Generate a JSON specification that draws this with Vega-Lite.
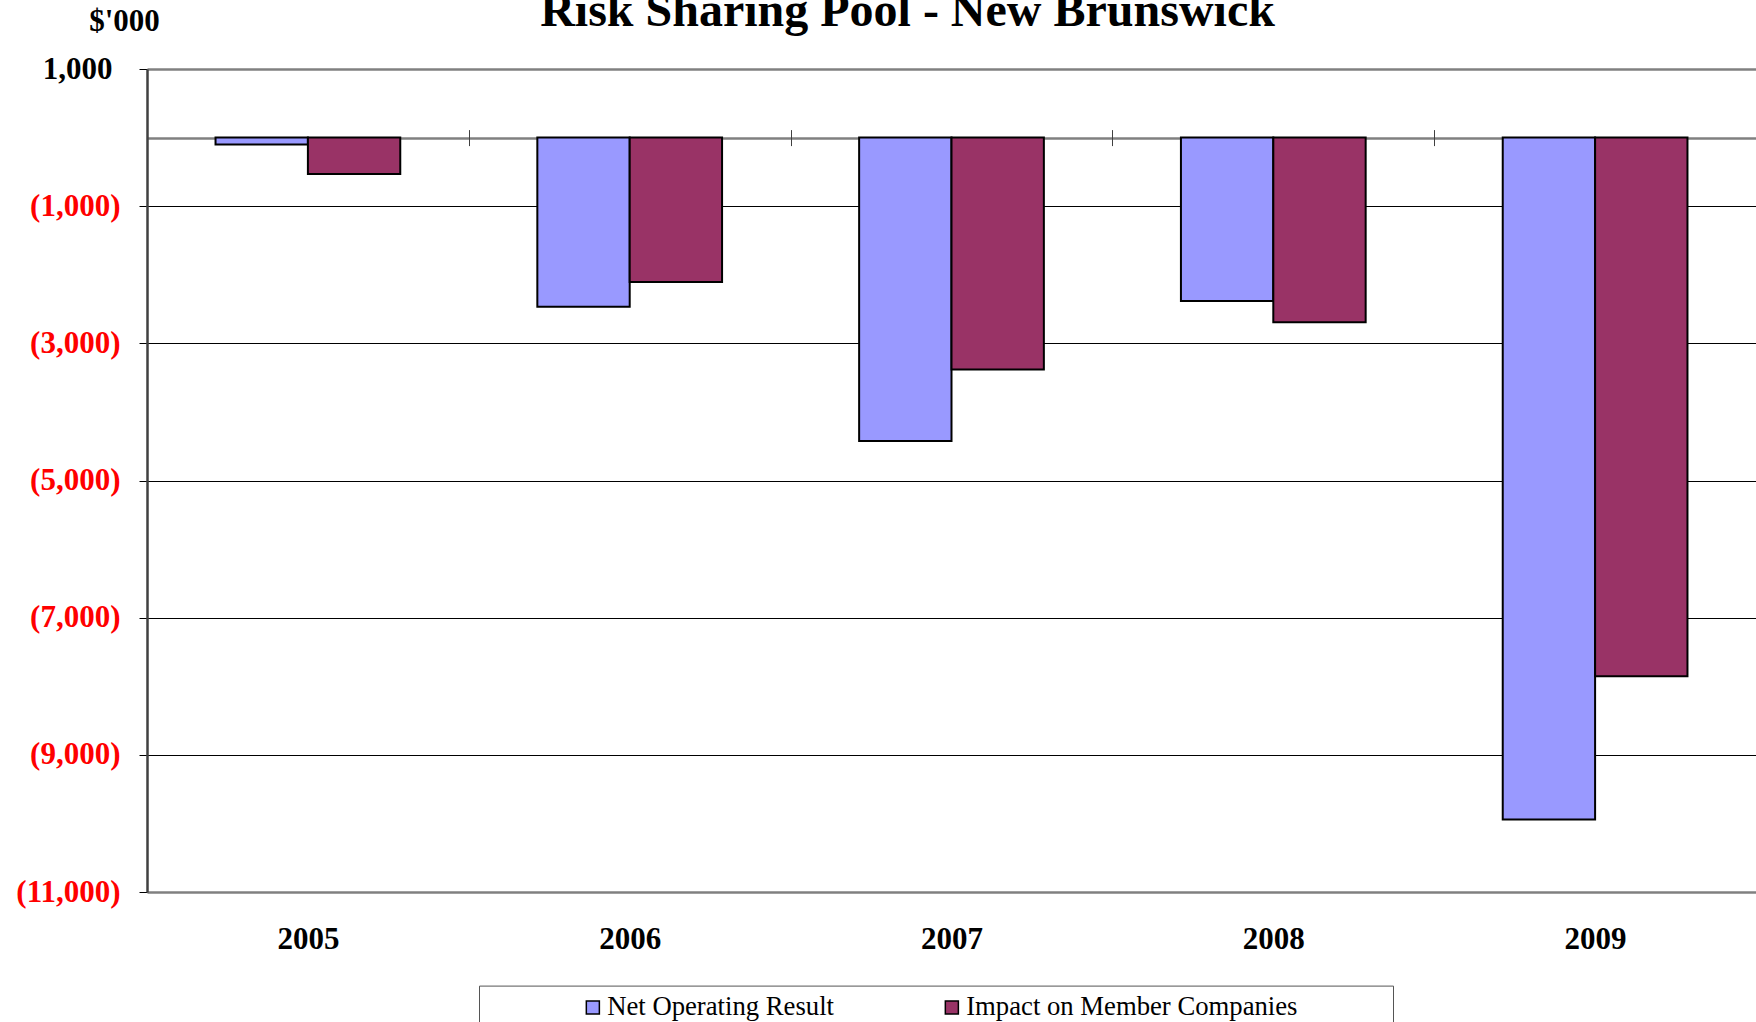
{
  "$schema": "https://vega.github.io/schema/vega-lite/v6.json",
  "autosize": {"type": "none"},
  "padding": {"left": 147, "top": 69, "right": 0, "bottom": 130},
  "width": 1609,
  "height": 823,
  "background": "white",
  "title": {
    "text": "Risk Sharing Pool - New Brunswick",
    "font": "Liberation Serif",
    "fontSize": 48,
    "fontWeight": "bold",
    "color": "black",
    "anchor": "middle",
    "dx": -44,
    "dy": 31,
    "offset": 0
  },
  "data": {
    "values": [
      {"year": "2005", "series": "Net Operating Result", "value": -100},
      {"year": "2005", "series": "Impact on Member Companies", "value": -530},
      {"year": "2006", "series": "Net Operating Result", "value": -2465},
      {"year": "2006", "series": "Impact on Member Companies", "value": -2106},
      {"year": "2007", "series": "Net Operating Result", "value": -4424},
      {"year": "2007", "series": "Impact on Member Companies", "value": -3380},
      {"year": "2008", "series": "Net Operating Result", "value": -2384},
      {"year": "2008", "series": "Impact on Member Companies", "value": -2694},
      {"year": "2009", "series": "Net Operating Result", "value": -9943},
      {"year": "2009", "series": "Impact on Member Companies", "value": -7853}
    ]
  },
  "mark": {"type": "bar", "stroke": "black", "strokeWidth": 2, "strokeJoin": "miter"},
  "encoding": {
    "x": {
      "field": "year",
      "type": "nominal",
      "scale": {"paddingInner": 0, "paddingOuter": 0},
      "axis": {
        "orient": "bottom",
        "title": null,
        "offset": -762.4,
        "domain": false,
        "grid": false,
        "tickBand": "extent",
        "ticks": true,
        "tickSize": 16,
        "tickColor": "#404040",
        "tickWidth": 1,
        "labelAngle": 0,
        "labelFont": "Liberation Serif",
        "labelFontSize": 31,
        "labelFontWeight": "bold",
        "labelColor": "black",
        "labelPadding": 779
      }
    },
    "xOffset": {
      "field": "series",
      "type": "nominal",
      "sort": ["Net Operating Result", "Impact on Member Companies"],
      "scale": {"paddingInner": 0, "paddingOuter": 0.742}
    },
    "y": {
      "field": "value",
      "type": "quantitative",
      "scale": {"domain": [-11000, 1000], "nice": false, "zero": false},
      "axis": {
        "title": "$'000",
        "titleAngle": 0,
        "titleX": -23,
        "titleY": -48,
        "titleAlign": "center",
        "titleBaseline": "middle",
        "titleFont": "Liberation Serif",
        "titleFontSize": 31,
        "titleFontWeight": "bold",
        "titleColor": "black",
        "values": [1000, 0, -1000, -3000, -5000, -7000, -9000, -11000],
        "labelExpr": "datum.value === 0 ? '' : (datum.value < 0 ? '(' + format(-datum.value, ',') + ')' : format(datum.value, ','))",
        "labelFont": "Liberation Serif",
        "labelFontSize": 31,
        "labelFontWeight": "bold",
        "labelColor": {"condition": {"test": "datum.value > 0", "value": "black"}, "value": "#FF0000"},
        "labelPadding": {"condition": {"test": "datum.value > 0", "value": 27}, "value": 19},
        "domain": true,
        "domainColor": "#404040",
        "domainWidth": 2.5,
        "ticks": true,
        "tickSize": 8,
        "tickColor": "black",
        "tickWidth": 1,
        "tickOpacity": {"condition": {"test": "datum.value === 0", "value": 0}, "value": 1},
        "grid": true,
        "gridColor": {"condition": {"test": "datum.value === 0 || datum.value === 1000 || datum.value === -11000", "value": "#808080"}, "value": "black"},
        "gridWidth": {"condition": {"test": "datum.value === 0 || datum.value === 1000 || datum.value === -11000", "value": 2.5}, "value": 1},
        "gridOpacity": 1
      }
    },
    "color": {
      "field": "series",
      "type": "nominal",
      "scale": {"domain": ["Net Operating Result", "Impact on Member Companies"], "range": ["#9999FF", "#993366"]},
      "legend": {
        "orient": "none",
        "legendX": 332,
        "legendY": 916.6,
        "direction": "horizontal",
        "title": "\u00a0",
        "titleOrient": "right",
        "titleFontSize": 1,
        "titlePadding": 88,
        "padding": 8,
        "strokeColor": "#555555",
        "fillColor": "white",
        "symbolType": "square",
        "symbolSize": 170,
        "symbolStrokeColor": "black",
        "symbolStrokeWidth": 1.5,
        "symbolOpacity": 1,
        "symbolOffset": 92.5,
        "labelOffset": 1,
        "columnPadding": 12,
        "labelFont": "Liberation Serif",
        "labelFontSize": 26.7,
        "labelColor": "black",
        "labelLimit": 0
      }
    }
  },
  "config": {"view": {"stroke": null}}
}
